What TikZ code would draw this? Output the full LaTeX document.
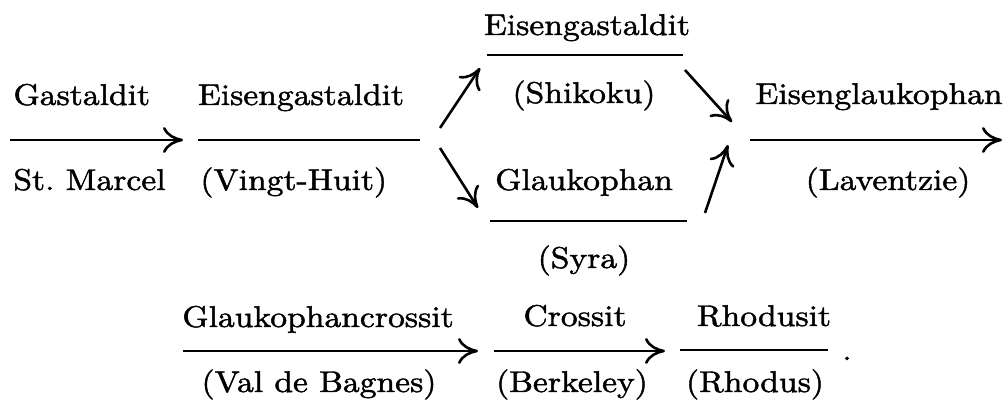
\documentclass[tikz,border=0pt]{standalone}
\usepackage{fontspec}
\setmainfont{lmroman10-regular.otf}[FakeStretch=1.12, FakeBold=1.5]
\usetikzlibrary{arrows.meta}

\begin{document}
\begin{tikzpicture}[x=0.5pt, y=-0.5pt,
    font=\fontsize{15}{18}\selectfont,
    lbl/.style={anchor=base, inner sep=0pt},
    bar/.style={line width=1.3pt},
    rxn/.style={bar, -{To[length=10pt,width=13pt]}}]
    \useasboundingbox (0,0) rectangle (1008,400);

    % first row
    \node[lbl, anchor=base west] (gast) at (13,105) {Gastaldit};
    \node[lbl, anchor=base west] (stm) at (13,190) {St.\ Marcel};
    \coordinate (a1s) at (10,140);
    \coordinate (a1e) at (183,140);
    \draw[rxn] (a1s) -- (a1e);

    \node[lbl] (eisen) at (301,105) {Eisengastaldit};
    \node[lbl, anchor=base west] (vingt) at (200,190) {(Vingt-Huit)};
    \coordinate (b1s) at (198,140);
    \coordinate (b1e) at (420,140);
    \draw[bar] (b1s) -- (b1e);

    % branch
    \coordinate (up1s) at (440,128);
    \coordinate (up1e) at (480,68);
    \coordinate (dn1s) at (440,148);
    \coordinate (dn1e) at (478,208);
    \draw[rxn] (up1s) -- (up1e);
    \draw[rxn] (dn1s) -- (dn1e);

    \node[lbl] (eisentop) at (587,35) {Eisengastaldit};
    \node[lbl] (shik) at (584,103) {(Shikoku)};
    \coordinate (c1s) at (487,55);
    \coordinate (c1e) at (683,55);
    \draw[bar] (c1s) -- (c1e);

    \node[lbl] (glauk) at (584,190) {Glaukophan};
    \node[lbl] (syra) at (584,268) {(Syra)};
    \coordinate (d1s) at (490,221);
    \coordinate (d1e) at (687,221);
    \draw[bar] (d1s) -- (d1e);

    \coordinate (dn2s) at (685,70);
    \coordinate (dn2e) at (732,122);
    \coordinate (up2s) at (705,213);
    \coordinate (up2e) at (728,145);
    \draw[rxn] (dn2s) -- (dn2e);
    \draw[rxn] (up2s) -- (up2e);

    \node[lbl] (eglauk) at (879,104) {Eisenglaukophan};
    \node[lbl] (lav) at (888,190) {(Laventzie)};
    \coordinate (e1s) at (750,140);
    \coordinate (e1e) at (1002,140);
    \draw[rxn] (e1s) -- (e1e);

    % second row
    \node[lbl] (gcross) at (318,327) {Glaukophancrossit};
    \node[lbl] (valb) at (319,392) {(Val de Bagnes)};
    \coordinate (f1s) at (183,351);
    \coordinate (f1e) at (478,351);
    \draw[rxn] (f1s) -- (f1e);

    \node[lbl] (cross) at (575,326) {Crossit};
    \node[lbl] (berk) at (572,392) {(Berkeley)};
    \coordinate (g1s) at (494,351);
    \coordinate (g1e) at (665,351);
    \draw[rxn] (g1s) -- (g1e);

    \node[lbl] (rhod) at (764,326) {Rhodusit};
    \node[lbl] (rhods) at (755,392) {(Rhodus)};
    \coordinate (h1s) at (680,350);
    \coordinate (h1e) at (828,350);
    \draw[bar] (h1s) -- (h1e);
    \node[lbl] (stop) at (847,360) {.};
\end{tikzpicture}
\end{document}
